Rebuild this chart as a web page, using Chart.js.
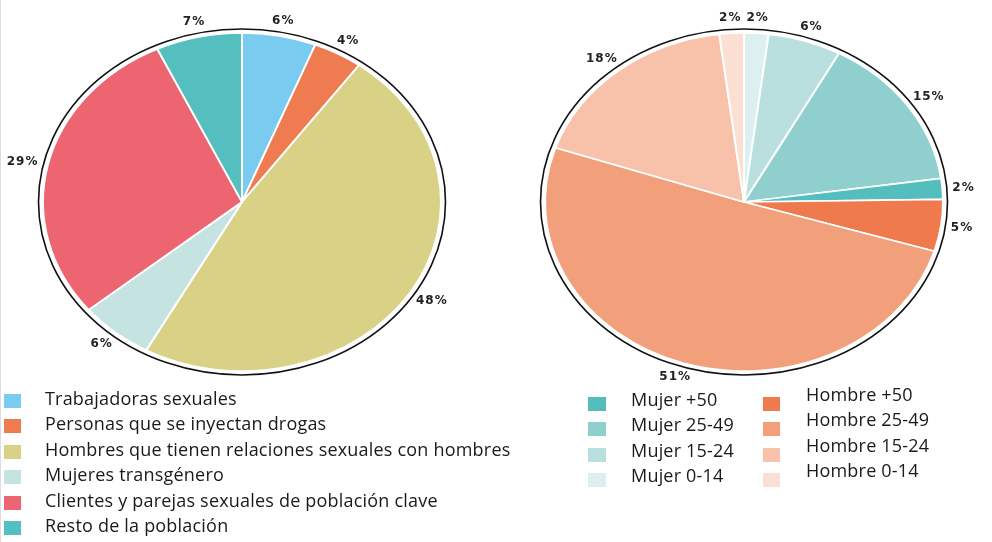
<!DOCTYPE html>
<html>
<head>
<meta charset="utf-8">
<script src="https://cdn.jsdelivr.net/npm/chart.js@4/dist/chart.umd.min.js"></script>
<style>
body{margin:0;background:#fff;width:992px;height:542px;overflow:hidden;position:relative;font-family:"Open Sans",sans-serif;border-left:1px solid #ddd;box-sizing:border-box}
canvas.pie{position:absolute}
.item{position:absolute;white-space:nowrap;font-size:18px;letter-spacing:0.2px;line-height:20px;color:#1a1a1a}
.sw{position:absolute}
</style>
</head>
<body>
<canvas id="grupos" class="pie" width="496" height="420" style="left:-7px;top:-8px"></canvas>
<canvas id="edades" class="pie" width="496" height="420" style="left:495px;top:-8px"></canvas>
<div id="leyendas"></div>
<script>
// datos grafica izquierda (poblacion clave)
const gruposLabels = ['Trabajadoras sexuales', 'Personas que se inyectan drogas', 'Hombres que tienen relaciones sexuales con hombres', 'Mujeres transgénero', 'Clientes y parejas sexuales de población clave', 'Resto de la población'];
const gruposValores = [6, 4, 48, 6, 29, 7];
const gruposColores = ['#7acbf0', '#ef7b50', '#d8d186', '#c5e3e1', '#ec6571', '#55bebe'];

// datos grafica derecha (sexo y edad), en el orden de las porciones
const edadesLabels = ['Mujer 0-14', 'Mujer 15-24', 'Mujer 25-49', 'Mujer +50', 'Hombre +50', 'Hombre 25-49', 'Hombre 15-24', 'Hombre 0-14'];
const edadesValores = [2, 6, 15, 2, 5, 51, 18, 2];
const edadesColores = ['#ddefef', '#b9e0df', '#8fd0cf', '#54bdbd', '#ef7a4e', '#f29f7b', '#f7c2a9', '#fcdfd3'];

const ELIPSE = 0.85;

// aplasta el pastel en vertical y pone contorno + porcentajes
const elipse = {
    id: 'elipse',
    beforeDatasetsDraw(chart) {
        const ctx = chart.ctx;
        const a = chart.getDatasetMeta(0).data[0];
        ctx.save();
        ctx.translate(a.x, a.y);
        ctx.scale(1, ELIPSE);
        ctx.translate(-a.x, -a.y);
    },
    afterDatasetsDraw(chart) {
        const ctx = chart.ctx;
        ctx.restore();
        const meta = chart.getDatasetMeta(0);
        const {x, y, outerRadius} = meta.data[0];
        const valores = chart.data.datasets[0].data;

        ctx.save();
        ctx.beginPath();
        ctx.ellipse(x, y, outerRadius + 4.5, (outerRadius + 4.5) * ELIPSE, 0, 0, Math.PI * 2);
        ctx.strokeStyle = '#111';
        ctx.lineWidth = 1.6;
        ctx.stroke();

        ctx.font = 'bold 12px "DejaVu Sans"';
        ctx.letterSpacing = '1px';
        ctx.fillStyle = '#222';
        ctx.textAlign = 'center';
        ctx.textBaseline = 'middle';
        const pad = 10;
        meta.data.forEach((arc, i) => {
            const mid = (arc.startAngle + arc.endAngle) / 2;
            const cx = Math.cos(mid), cy = Math.sin(mid);
            const txt = valores[i] + '%';
            const w = ctx.measureText(txt).width;
            const px = x + (outerRadius + pad) * cx + cx * w / 2;
            const py = y + (outerRadius * ELIPSE + pad) * cy + cy * 5;
            ctx.fillText(txt, px, py);
        });
        ctx.restore();
    }
};

function pastel(id, labels, valores, colores) {
    new Chart(document.getElementById(id), {
        type: 'pie',
        data: {
            labels: labels,
            datasets: [{
                data: valores,
                backgroundColor: colores,
                borderColor: '#fff',
                borderWidth: 2
            }]
        },
        options: {
            responsive: false,
            animation: false,
            events: [],
            radius: 199,
            layout: {padding: 0},
            plugins: {
                legend: {display: false},
                tooltip: {enabled: false}
            }
        },
        plugins: [elipse]
    });
}

pastel('grupos', gruposLabels, gruposValores, gruposColores);
pastel('edades', edadesLabels, edadesValores, edadesColores);

/* leyendas en html */
const ley = document.getElementById('leyendas');
function item(texto, color, sx, sy, sw, sh, tx, ty) {
    const s = document.createElement('div');
    s.className = 'sw';
    s.style.cssText = `left:${sx}px;top:${sy}px;width:${sw}px;height:${sh}px;background:${color}`;
    ley.appendChild(s);
    const t = document.createElement('div');
    t.className = 'item';
    t.textContent = texto;
    t.style.left = tx + 'px';
    t.style.top = (ty - 11) + 'px';
    ley.appendChild(t);
}

gruposLabels.forEach((l, i) => {
    const cy = 399 + 25.4 * i;
    item(l, gruposColores[i], 3, cy - 5, 17, 14, 44, cy);
});

// columna mujeres (de +50 a 0-14) y columna hombres
[3, 2, 1, 0].forEach((k, i) => {
    const cy = 400 + 25.4 * i;
    item(edadesLabels[k], edadesColores[k], 587, cy - 3, 18, 14, 630, cy);
});
[4, 5, 6, 7].forEach((k, i) => {
    const cy = 395 + 25.4 * i;
    item(edadesLabels[k], edadesColores[k], 762, cy + 2, 17, 14, 805, cy);
});
</script>
</body>
</html>
